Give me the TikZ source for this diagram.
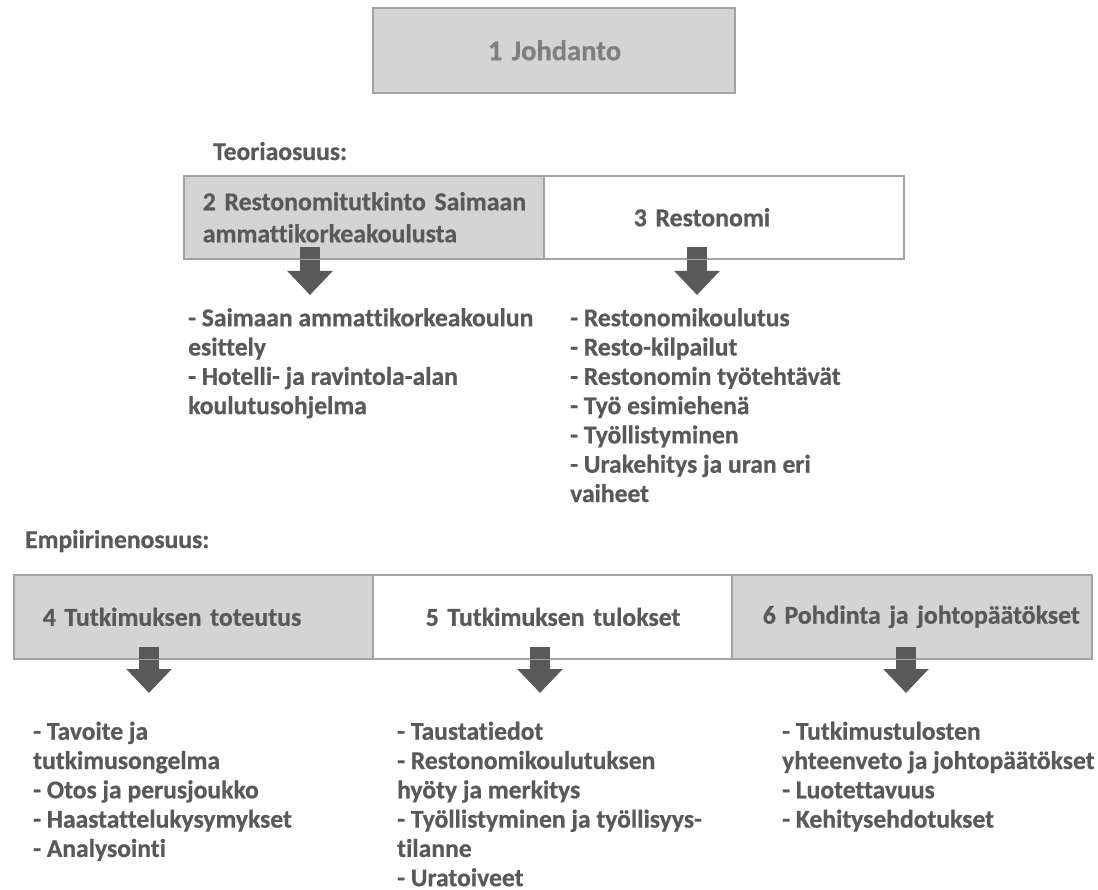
\documentclass[tikz,border=0pt]{standalone}
\usepackage{fontspec}
\setmainfont{Carlito}[Ligatures=NoCommon, BoldFeatures={FakeBold=0.6}]
\usetikzlibrary{arrows.meta}

\definecolor{ink}{HTML}{595959}
\definecolor{lightink}{HTML}{7F7F7F}
\definecolor{cellgray}{HTML}{D4D4D4}
\definecolor{rulegray}{HTML}{A3A3A3}

\begin{document}
\begin{tikzpicture}[x=1pt, y=-1pt,
  cell/.style={rectangle, draw=rulegray, line width=1.6pt, anchor=north west,
               minimum height=84pt, inner ysep=0pt, align=left, text=ink,
               font=\fontsize{25.8}{32}\selectfont\bfseries},
  part/.style={anchor=base west, inner sep=0pt, text=ink,
               font=\fontsize{25.6}{29.3}\selectfont\bfseries},
  items/.style={anchor=north west, inner sep=0pt, align=left, text=ink,
                font=\fontsize{25.6}{29.3}\selectfont\bfseries},
  downarrow/.style={draw=ink, line width=20pt, -{Triangle[length=24pt, width=44pt]}},
  rule/.style={draw=rulegray, line width=1.6pt}
]
  \fill[white] (0,0) rectangle (1098,890);
  \useasboundingbox (0,0) rectangle (1098,890);

  % Johdanto
  \node[cell, fill=cellgray, text=lightink, minimum height=85pt,
        font=\fontsize{28.5}{32}\selectfont\bfseries,
        inner xsep=115pt, text width=132pt] (johdanto) at (372,7) {\mbox{1 Johdanto}};

  % Teoriaosuus
  \node[part] (teoria) at (213,160) {Teoriaosuus:};
  \node[cell, fill=cellgray, minimum height=83pt, inner xsep=19pt, text width=322pt]
    (restotutkinto) at (183,175) {\mbox{2 Restonomitutkinto Saimaan}\\\mbox{ammattikorkeakoulusta}};
  \node[cell, fill=white, minimum height=83pt, inner xsep=90pt, text width=180pt]
    (restonomi) at (543,175) {\mbox{3 Restonomi}};

  \node[items] (saimaa) at (188,305.5)
    {\strut- Saimaan ammattikorkeakoulun\\esittely\\- Hotelli- ja ravintola-alan\\koulutusohjelma};
  \node[items] (restolista) at (570,305.5)
    {\strut- Restonomikoulutus\\- Resto-kilpailut\\- Restonomin työtehtävät\\- Työ esimiehenä\\- Työllistyminen\\- Urakehitys ja uran eri\\vaiheet};

  % Empiirinenosuus
  \node[part] (empiria) at (25,548) {Empiirinenosuus:};
  \node[cell, fill=cellgray, inner xsep=29pt, text width=301pt]
    (toteutus) at (13,574) {\mbox{4 Tutkimuksen toteutus}};
  \node[cell, fill=white, inner xsep=53pt, text width=253pt]
    (tulokset) at (372,574) {\mbox{5 Tutkimuksen tulokset}};
  \node[cell, fill=cellgray, inner xsep=31pt, text width=298pt]
    (pohdinta) at (731,574) {\mbox{6 Pohdinta ja johtopäätökset}};

  \node[items] (toteutuslista) at (33,719)
    {\strut- Tavoite ja\\tutkimusongelma\\- Otos ja perusjoukko\\- Haastattelukysymykset\\- Analysointi};
  \node[items] (tuloslista) at (397,719)
    {\strut- Taustatiedot\\- Restonomikoulutuksen\\hyöty ja merkitys\\- Työllistyminen ja työllisyys-\\tilanne\\- Uratoiveet};
  \node[items] (pohdintalista) at (782,719)
    {\strut- Tutkimustulosten\\yhteenveto ja johtopäätökset\\- Luotettavuus\\- Kehitysehdotukset};

  % Nuolet
  \coordinate (n2a) at (310,247);  \coordinate (n2b) at (310,295);
  \coordinate (n3a) at (697,247);  \coordinate (n3b) at (697,295);
  \coordinate (n4a) at (149,647);  \coordinate (n4b) at (149,693);
  \coordinate (n5a) at (540,647);  \coordinate (n5b) at (540,693);
  \coordinate (n6a) at (906,647);  \coordinate (n6b) at (906,693);
  \foreach \n in {2,...,6}
    \draw[downarrow] (n\n a) -- (n\n b);

  \draw[rule] (restotutkinto.south west) -- (restonomi.south east);
  \draw[rule] (toteutus.south west) -- (pohdinta.south east);
\end{tikzpicture}
\end{document}
